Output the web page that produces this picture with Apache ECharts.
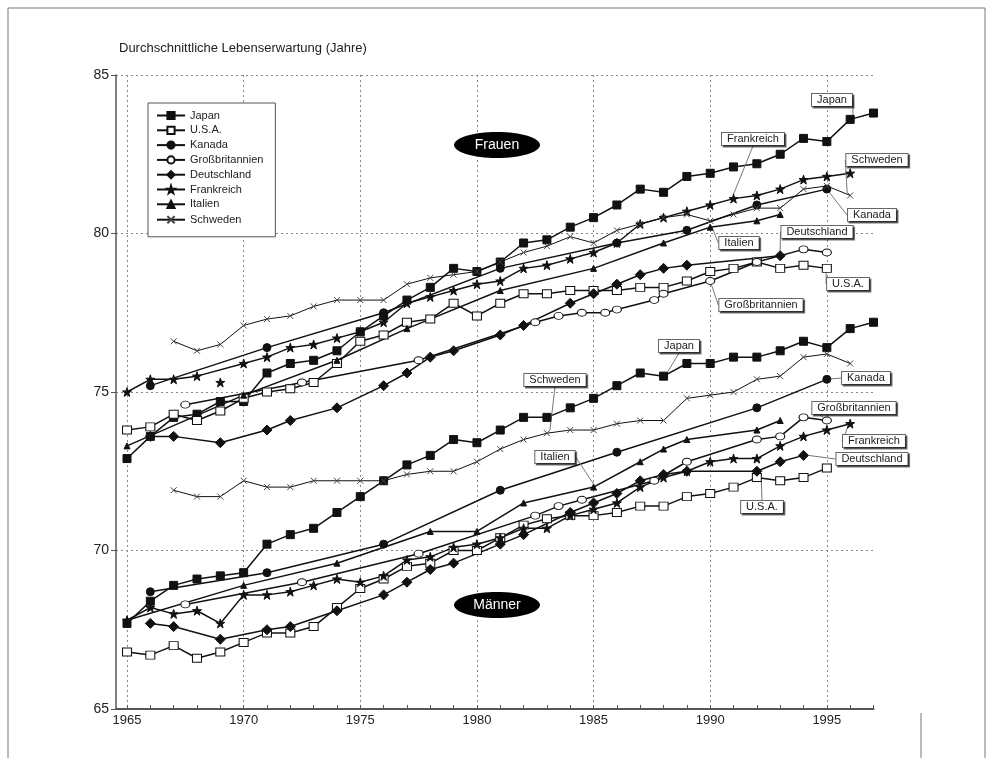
<!DOCTYPE html>
<html>
<head>
<meta charset="utf-8">
<title>Durchschnittliche Lebenserwartung</title>
<script src="https://cdn.jsdelivr.net/npm/echarts@6/dist/echarts.min.js"></script>
<style>
html, body { margin: 0; padding: 0; background: #fff; }
#chart { width: 990px; height: 758px; }
</style>
</head>
<body>
<div id="chart"></div>
<script>
/*********************** Daten *******************************/
var jahreAchse = [1965,1966,1967,1968,1969,1970,1971,1972,1973,1974,1975,1976,1977,1978,1979,1980,1981,1982,1983,1984,1985,1986,1987,1988,1989,1990,1991,1992,1993,1994,1995,1996,1997];
var jahreBeschriftet = [1965,1970,1975,1980,1985,1990,1995];

// Japan 1965-1997
var jahreJapan = [1965,1966,1967,1968,1969,1970,1971,1972,1973,1974,1975,1976,1977,1978,1979,1980,1981,1982,1983,1984,1985,1986,1987,1988,1989,1990,1991,1992,1993,1994,1995,1996,1997];
var japanFrauen = [72.9,73.6,74.2,74.3,74.7,74.7,75.6,75.9,76.0,76.3,76.9,77.4,77.9,78.3,78.9,78.8,79.1,79.7,79.8,80.2,80.5,80.9,81.4,81.3,81.8,81.9,82.1,82.2,82.5,83.0,82.9,83.6,83.8];
var japanMaenner = [67.7,68.4,68.9,69.1,69.2,69.3,70.2,70.5,70.7,71.2,71.7,72.2,72.7,73.0,73.5,73.4,73.8,74.2,74.2,74.5,74.8,75.2,75.6,75.5,75.9,75.9,76.1,76.1,76.3,76.6,76.4,77.0,77.2];

// U.S.A. 1965-1995
var jahreUSA = [1965,1966,1967,1968,1969,1970,1971,1972,1973,1974,1975,1976,1977,1978,1979,1980,1981,1982,1983,1984,1985,1986,1987,1988,1989,1990,1991,1992,1993,1994,1995];
var usaFrauen = [73.8,73.9,74.3,74.1,74.4,74.8,75.0,75.1,75.3,75.9,76.6,76.8,77.2,77.3,77.8,77.4,77.8,78.1,78.1,78.2,78.2,78.2,78.3,78.3,78.5,78.8,78.9,79.1,78.9,79.0,78.9];
var usaMaenner = [66.8,66.7,67.0,66.6,66.8,67.1,67.4,67.4,67.6,68.2,68.8,69.1,69.5,69.6,70.0,70.0,70.4,70.8,71.0,71.1,71.1,71.2,71.4,71.4,71.7,71.8,72.0,72.3,72.2,72.3,72.6];

// Kanada
var jahreKanadaF = [1966,1971,1976,1981,1986,1989,1992,1995];
var kanadaFrauen = [75.2,76.4,77.5,78.9,79.7,80.1,80.9,81.4];
var jahreKanadaM = [1966,1971,1976,1981,1986,1992,1995];
var kanadaMaenner = [68.7,69.3,70.2,71.9,73.1,74.5,75.4];

// Grossbritannien
var jahreGBF = [1967.5,1972.5,1977.5,1982.5,1983.5,1984.5,1985.5,1986,1987.6,1988,1990,1992,1994,1995];
var gbFrauen = [74.6,75.3,76.0,77.2,77.4,77.5,77.5,77.6,77.9,78.1,78.5,79.1,79.5,79.4];
var jahreGBM = [1967.5,1972.5,1977.5,1982.5,1983.5,1984.5,1987.6,1989,1992,1993,1994,1995];
var gbMaenner = [68.3,69.0,69.9,71.1,71.4,71.6,72.2,72.8,73.5,73.6,74.2,74.1];

// Deutschland
var jahreDeutschlandF = [1966,1967,1969,1971,1972,1974,1976,1977,1978,1979,1981,1982,1984,1985,1986,1987,1988,1989,1993];
var deutschlandFrauen = [73.6,73.6,73.4,73.8,74.1,74.5,75.2,75.6,76.1,76.3,76.8,77.1,77.8,78.1,78.4,78.7,78.9,79.0,79.3];
var jahreDeutschlandM = [1966,1967,1969,1971,1972,1974,1976,1977,1978,1979,1981,1982,1984,1985,1986,1987,1988,1989,1992,1993,1994];
var deutschlandMaenner = [67.7,67.6,67.2,67.5,67.6,68.1,68.6,69.0,69.4,69.6,70.2,70.5,71.2,71.5,71.8,72.2,72.4,72.5,72.5,72.8,73.0];

// Frankreich 1965-1996 (1969 bei den Frauen nur als Einzelpunkt)
var jahreFrankreich = [1965,1966,1967,1968,1969,1970,1971,1972,1973,1974,1975,1976,1977,1978,1979,1980,1981,1982,1983,1984,1985,1986,1987,1988,1989,1990,1991,1992,1993,1994,1995,1996];
var frankreichFrauen = [75.0,75.4,75.4,75.5,null,75.9,76.1,76.4,76.5,76.7,76.9,77.2,77.8,78.0,78.2,78.4,78.5,78.9,79.0,79.2,79.4,79.7,80.3,80.5,80.7,80.9,81.1,81.2,81.4,81.7,81.8,81.9];
var jahreFrankreichEinzel = [1969];
var frankreichFrauenEinzel = [75.3];
var frankreichMaenner = [67.8,68.2,68.0,68.1,67.7,68.6,68.6,68.7,68.9,69.1,69.0,69.2,69.7,69.8,70.1,70.2,70.4,70.7,70.7,71.1,71.3,71.5,72.0,72.3,72.5,72.8,72.9,72.9,73.3,73.6,73.8,74.0];

// Italien
var jahreItalienF = [1965,1970,1974,1977,1981,1985,1988,1990,1992,1993];
var italienFrauen = [73.3,74.9,76.0,77.0,78.2,78.9,79.7,80.2,80.4,80.6];
var jahreItalienM = [1965,1970,1974,1978,1980,1982,1985,1987,1988,1989,1992,1993];
var italienMaenner = [67.8,68.9,69.6,70.6,70.6,71.5,72.0,72.8,73.2,73.5,73.8,74.1];

// Schweden 1967-1996
var jahreSchweden = [1967,1968,1969,1970,1971,1972,1973,1974,1975,1976,1977,1978,1979,1980,1981,1982,1983,1984,1985,1986,1987,1988,1989,1990,1991,1992,1993,1994,1995,1996];
var schwedenFrauen = [76.6,76.3,76.5,77.1,77.3,77.4,77.7,77.9,77.9,77.9,78.4,78.6,78.7,78.8,79.1,79.4,79.6,79.9,79.7,80.1,80.3,80.5,80.6,80.4,80.6,80.8,80.8,81.4,81.5,81.2];
var schwedenMaenner = [71.9,71.7,71.7,72.2,72.0,72.0,72.2,72.2,72.2,72.2,72.4,72.5,72.5,72.8,73.2,73.5,73.7,73.8,73.8,74.0,74.1,74.1,74.8,74.9,75.0,75.4,75.5,76.1,76.2,75.9];

var laender = ['Japan','U.S.A.','Kanada','Großbritannien','Deutschland','Frankreich','Italien','Schweden'];

/*********************** Diagramm *******************************/
var STERN = 'path://M5,0L6.2,3.6L10,3.6L7,5.8L8.1,9.5L5,7.2L1.9,9.5L3,5.8L0,3.6L3.8,3.6Z';
var KREUZ = 'path://M0,0L8,8M8,0L0,8';

function LebenCharts(params){
    this.domId = params.domId;
    this.title = params.title;
    this.chart = {};
    this.chartsObj = {};
    this.option = {};
    this.series = [];
}

LebenCharts.prototype.initChart = function () {
    var thisProxy = this;
    thisProxy.chart = document.getElementById(thisProxy.domId);
    thisProxy.chartsObj = echarts.init(thisProxy.chart, null, { renderer: 'canvas' });
};

// Symbolstil je Land
LebenCharts.prototype.stil = function (land) {
    var s = {
        'Japan':          { symbol: 'rect',     size: 8,      fill: '#111' },
        'U.S.A.':         { symbol: 'rect',     size: [9, 8], fill: '#fff' },
        'Kanada':         { symbol: 'circle',   size: 8,      fill: '#111' },
        'Großbritannien': { symbol: 'circle',   size: [9, 7], fill: '#fff' },
        'Deutschland':    { symbol: 'diamond',  size: 10,     fill: '#111' },
        'Frankreich':     { symbol: STERN,      size: 9,      fill: '#111' },
        'Italien':        { symbol: 'triangle', size: 6,      fill: '#111' },
        'Schweden':       { symbol: KREUZ,      size: 6,      fill: 'none' }
    };
    return s[land];
};

LebenCharts.prototype.addSeries = function (land, jahre, werte, beschriftung) {
    var thisProxy = this;
    var st = thisProxy.stil(land);
    var daten = [];
    for (var i = 0; i < jahre.length; i++) {
        var w = (werte[i] === null) ? '-' : werte[i];
        if (beschriftung && jahre[i] === beschriftung.jahr) {
            daten.push({
                value: [jahre[i], w],
                label: { show: true, formatter: land }
            });
        } else {
            daten.push([jahre[i], w]);
        }
    }
    var serie = {
        name: land,
        type: 'line',
        xAxisIndex: 0,
        yAxisIndex: 0,
        data: daten,
        connectNulls: true,
        symbol: st.symbol,
        symbolSize: st.size,
        showAllSymbol: true,
        z: 3,
        lineStyle: { color: '#111', width: land === 'Schweden' ? 1 : 1.5 },
        itemStyle: {
            color: st.fill,
            borderColor: land === 'Schweden' ? '#444' : '#111',
            borderWidth: 1
        },
        emphasis: { disabled: true },
        label: {
            show: false,
            fontFamily: 'Liberation Sans',
            fontSize: 11,
            color: '#222',
            backgroundColor: '#fff',
            borderColor: '#666',
            borderWidth: 1,
            padding: [1, 5, 0, 5],
            shadowColor: 'rgba(0,0,0,0.55)',
            shadowOffsetX: 1.5,
            shadowOffsetY: 1.5
        },
        labelLine: { show: true, lineStyle: { color: '#777', width: 1 } }
    };
    if (beschriftung) {
        serie.labelLayout = function () {
            return { x: beschriftung.x, y: beschriftung.y, align: 'center', verticalAlign: 'middle' };
        };
    }
    thisProxy.series.push(serie);
};

LebenCharts.prototype.getOption = function () {
    var thisProxy = this;
    // Frauen
    thisProxy.addSeries('Japan', jahreJapan, japanFrauen, { jahr: 1996, x: 832, y: 100 });
    thisProxy.addSeries('U.S.A.', jahreUSA, usaFrauen, { jahr: 1995, x: 848, y: 284 });
    thisProxy.addSeries('Kanada', jahreKanadaF, kanadaFrauen, { jahr: 1995, x: 872, y: 215 });
    thisProxy.addSeries('Großbritannien', jahreGBF, gbFrauen, { jahr: 1990, x: 761, y: 305 });
    thisProxy.addSeries('Deutschland', jahreDeutschlandF, deutschlandFrauen, { jahr: 1993, x: 817, y: 232 });
    thisProxy.addSeries('Frankreich', jahreFrankreich, frankreichFrauen, { jahr: 1991, x: 753, y: 139 });
    thisProxy.addSeries('Frankreich', jahreFrankreichEinzel, frankreichFrauenEinzel, null);
    thisProxy.addSeries('Italien', jahreItalienF, italienFrauen, { jahr: 1990, x: 739, y: 243 });
    thisProxy.addSeries('Schweden', jahreSchweden, schwedenFrauen, { jahr: 1996, x: 877, y: 160 });
    // Maenner
    thisProxy.addSeries('Japan', jahreJapan, japanMaenner, { jahr: 1988, x: 679, y: 346 });
    thisProxy.addSeries('U.S.A.', jahreUSA, usaMaenner, { jahr: 1992, x: 762, y: 507 });
    thisProxy.addSeries('Kanada', jahreKanadaM, kanadaMaenner, { jahr: 1995, x: 866, y: 378 });
    thisProxy.addSeries('Großbritannien', jahreGBM, gbMaenner, { jahr: 1995, x: 854, y: 408 });
    thisProxy.addSeries('Deutschland', jahreDeutschlandM, deutschlandMaenner, { jahr: 1994, x: 872, y: 459 });
    thisProxy.addSeries('Frankreich', jahreFrankreich, frankreichMaenner, { jahr: 1996, x: 874, y: 441 });
    thisProxy.addSeries('Italien', jahreItalienM, italienMaenner, { jahr: 1985, x: 555, y: 457 });
    thisProxy.addSeries('Schweden', jahreSchweden, schwedenMaenner, { jahr: 1983, x: 555, y: 380 });

    thisProxy.option = {
        animation: false,
        backgroundColor: '#fff',
        textStyle: { fontFamily: 'Liberation Sans' },
        title: {
            text: thisProxy.title,
            left: 114,
            top: 37,
            textStyle: { fontFamily: 'Liberation Sans', fontSize: 13, fontWeight: 'normal', color: '#222' }
        },
        grid: { left: 116, right: 116.5, top: 75, bottom: 49 },
        legend: {
            data: laender,
            orient: 'vertical',
            left: 148,
            top: 103,
            itemWidth: 28,
            itemHeight: 9,
            itemGap: 3.8,
            padding: [7, 12, 11, 8],
            backgroundColor: '#fff',
            borderColor: '#555',
            borderWidth: 1,
            selectedMode: false,
            textStyle: { fontFamily: 'Liberation Sans', fontSize: 11, color: '#222' }
        },
        xAxis: [
            {
                type: 'value',
                min: 1964.528,
                max: 1997,
                position: 'bottom',
                axisLine: { show: true, lineStyle: { color: '#555', width: 2 } },
                axisTick: { show: true, inside: true, length: 4, customValues: jahreAchse, lineStyle: { color: '#555', width: 1 } },
                axisLabel: {
                    customValues: jahreBeschriftet,
                    margin: 5,
                    fontSize: 13,
                    fontFamily: 'Liberation Sans',
                    color: '#222',
                    formatter: function (value) {
                        return String(Math.round(value));
                    }
                },
                splitLine: { show: false }
            },
            {
                type: 'value',
                min: 1964.528,
                max: 1997,
                position: 'top',
                axisLine: { show: false },
                axisTick: { show: false, customValues: jahreBeschriftet },
                axisLabel: { show: false },
                splitLine: { show: true, lineStyle: { color: '#888', width: 1, type: [2, 3] } }
            }
        ],
        yAxis: {
            type: 'value',
            min: 65,
            max: 85,
            interval: 5,
            axisLine: { show: true, lineStyle: { color: '#555', width: 1.5 } },
            axisTick: { show: true, length: 5, lineStyle: { color: '#555' } },
            axisLabel: { margin: 7, fontSize: 14, fontFamily: 'Liberation Sans', color: '#222' },
            splitLine: { show: true, lineStyle: { color: '#888', width: 1, type: [2, 3] } }
        },
        graphic: [
            { type: 'polyline', silent: true, shape: { points: [[8, 758], [8, 8], [985, 8], [985, 758]] }, style: { stroke: '#777', fill: null, lineWidth: 1 } },
            { type: 'line', silent: true, shape: { x1: 921, y1: 713, x2: 921, y2: 758 }, style: { stroke: '#777', lineWidth: 1 } },
            { type: 'ellipse', silent: true, shape: { cx: 497, cy: 145, rx: 43, ry: 13 }, style: { fill: '#000' }, z: 10 },
            { type: 'text', silent: true, x: 497, y: 145, style: { text: 'Frauen', fill: '#fff', font: '14px "Liberation Sans"', align: 'center', verticalAlign: 'middle' }, z: 11 },
            { type: 'ellipse', silent: true, shape: { cx: 497, cy: 605, rx: 43, ry: 13 }, style: { fill: '#000' }, z: 10 },
            { type: 'text', silent: true, x: 497, y: 605, style: { text: 'Männer', fill: '#fff', font: '14px "Liberation Sans"', align: 'center', verticalAlign: 'middle' }, z: 11 }
        ],
        series: thisProxy.series
    };
};

LebenCharts.prototype.fireData = function () {
    var thisProxy = this;
    thisProxy.chartsObj.setOption(thisProxy.option);
};

var lebenChart = new LebenCharts({ domId: 'chart', title: 'Durchschnittliche Lebenserwartung (Jahre)' });
lebenChart.initChart();
lebenChart.getOption();
lebenChart.fireData();
</script>
</body>
</html>
